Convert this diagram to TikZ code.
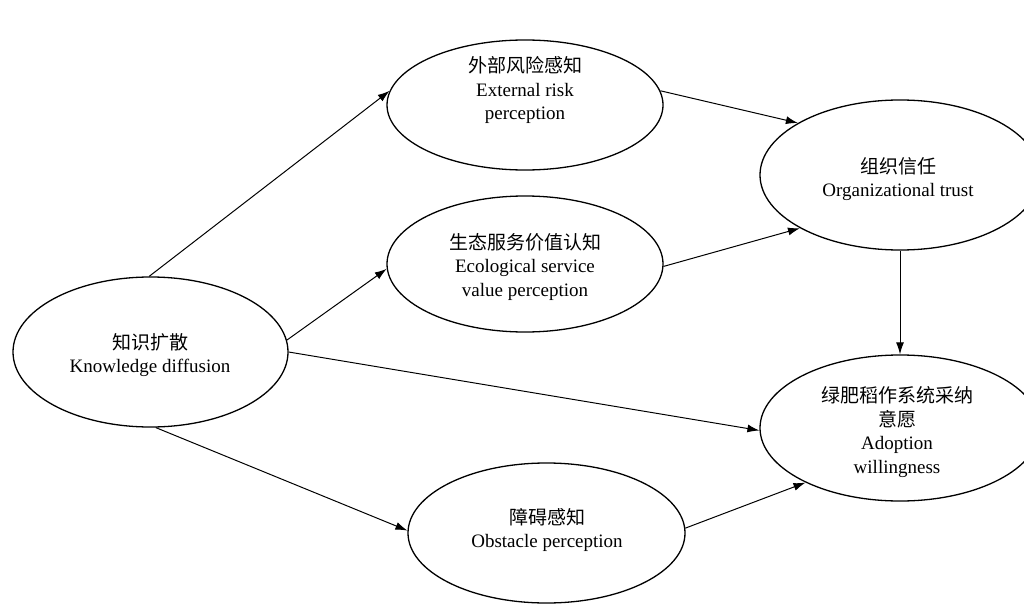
\documentclass[tikz,border=0pt]{standalone}
\usepackage{fontspec}
\setmainfont{Liberation Serif}
\newfontfamily\cjk{Noto Sans CJK SC}
\usetikzlibrary{shapes.geometric,arrows.meta}
\begin{document}
\begin{tikzpicture}[x=1pt,y=-1pt,
  ell/.style={draw, line width=1.3pt, ellipse, inner sep=0pt},
  lbl/.style={align=center, font=\fontsize{19}{23.5}\selectfont, inner sep=0pt},
  arr/.style={line width=1pt, -{Latex[length=12pt,width=8pt]}}]
\clip (0,0) rectangle (1024,604);
\fill[white] (0,0) rectangle (1024,604);
\node[ell, minimum width=275pt, minimum height=150pt] (kd) at (150.5,352) {};
\node[ell, minimum width=276pt, minimum height=130pt] (er) at (525,105) {};
\node[ell, minimum width=276pt, minimum height=136pt] (eco) at (525,264) {};
\node[ell, minimum width=277pt, minimum height=140pt] (obs) at (546.5,533) {};
\node[ell, minimum width=280pt, minimum height=150pt] (ot) at (900,175) {};
\node[ell, minimum width=280pt, minimum height=146pt] (aw) at (900,428) {};
\node[lbl] (kdt) at (150,355) {{\cjk 知识扩散}\\Knowledge diffusion};
\node[lbl] (ert) at (525,90) {{\cjk 外部风险感知}\\External risk\\perception};
\node[lbl] (ecot) at (525,267) {{\cjk 生态服务价值认知}\\Ecological service\\value perception};
\node[lbl] (obst) at (547,530) {{\cjk 障碍感知}\\Obstacle perception};
\node[lbl] (ott) at (898,179) {{\cjk 组织信任}\\Organizational trust};
\node[lbl] (awt) at (897,432) {{\cjk 绿肥稻作系统采纳}\\{\cjk 意愿}\\Adoption\\willingness};
\draw[arr] (kd.91) -- (er.174);
\draw[arr] (kd.5) -- (eco.182);
\draw[arr] (kd.0) -- (aw.181);
\draw[arr] (kd.274) -- (obs.179);
\draw[arr] (er.6) -- (ot.153);
\draw[arr] (eco.359) -- (ot.208);
\draw[arr] (ot) -- (aw);
\draw[arr] (obs.2) -- (aw.210);
\end{tikzpicture}
\end{document}
